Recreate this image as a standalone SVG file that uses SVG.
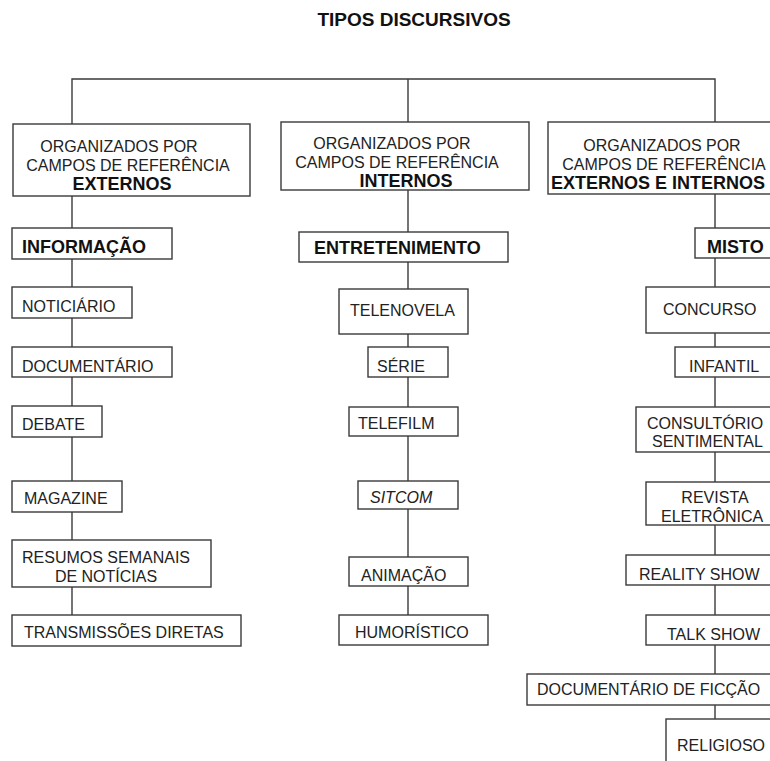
<svg xmlns="http://www.w3.org/2000/svg" width="770" height="761" viewBox="0 0 770 761">
  <style>
    .box { fill: #ffffff; stroke: #3a3a3a; stroke-width: 1.4; }
    .wire { fill: none; stroke: #3a3a3a; stroke-width: 1.4; }
    text { font-family: "Liberation Sans", Arial, sans-serif; fill: #222222; }
    .t { font-size: 16px; }
    .b { font-size: 18px; font-weight: bold; fill: #111111; }
    .it { font-size: 16px; font-style: italic; }
    .title { font-size: 19px; font-weight: bold; fill: #111111; }
    .mid { text-anchor: middle; }
  </style>

  <rect x="0" y="0" width="770" height="761" fill="#ffffff"/>

  <text class="title mid" x="414" y="26">TIPOS DISCURSIVOS</text>

  <!-- connectors: top bus and one spine per column -->
  <g id="connectors">
    <path class="wire" d="M72 124 V79 H715 V122 M408 79 V122"/>
    <path class="wire" d="M72 196 V615"/>
    <path class="wire" d="M408 190 V615"/>
    <path class="wire" d="M715 194 V719"/>
  </g>

  <!-- column headers -->
  <g id="hdr-externos">
    <rect class="box" x="13" y="124" width="237" height="72"/>
    <text class="t mid" x="119" y="152">ORGANIZADOS POR</text>
    <text class="t mid" x="128" y="171">CAMPOS DE REFERÊNCIA</text>
    <text class="b mid" x="122" y="190">EXTERNOS</text>
  </g>
  <g id="hdr-internos">
    <rect class="box" x="281" y="122" width="248" height="68"/>
    <text class="t mid" x="392" y="149">ORGANIZADOS POR</text>
    <text class="t mid" x="397" y="168">CAMPOS DE REFERÊNCIA</text>
    <text class="b mid" x="406" y="187">INTERNOS</text>
  </g>
  <g id="hdr-misto">
    <rect class="box" x="548" y="122" width="240" height="72"/>
    <text class="t mid" x="662" y="151">ORGANIZADOS POR</text>
    <text class="t mid" x="664" y="170">CAMPOS DE REFERÊNCIA</text>
    <text class="b mid" x="658" y="189">EXTERNOS E INTERNOS</text>
  </g>

  <!-- left column: informação -->
  <g id="informacao">
    <rect class="box" x="12" y="228" width="160" height="31"/>
    <text class="b" x="22" y="253">INFORMAÇÃO</text>
  </g>
  <g id="noticiario">
    <rect class="box" x="12" y="287" width="120" height="31"/>
    <text class="t" x="22" y="312">NOTICIÁRIO</text>
  </g>
  <g id="documentario">
    <rect class="box" x="12" y="347" width="160" height="30"/>
    <text class="t" x="22" y="372">DOCUMENTÁRIO</text>
  </g>
  <g id="debate">
    <rect class="box" x="12" y="406" width="90" height="31"/>
    <text class="t" x="22" y="430">DEBATE</text>
  </g>
  <g id="magazine">
    <rect class="box" x="12" y="481" width="110" height="31"/>
    <text class="t" x="24" y="504">MAGAZINE</text>
  </g>
  <g id="resumos">
    <rect class="box" x="12" y="540" width="199" height="47"/>
    <text class="t" x="22" y="563">RESUMOS SEMANAIS</text>
    <text class="t mid" x="106" y="582">DE NOTÍCIAS</text>
  </g>
  <g id="transmissoes">
    <rect class="box" x="12" y="615" width="229" height="31"/>
    <text class="t" x="24" y="638">TRANSMISSÕES DIRETAS</text>
  </g>

  <!-- middle column: entretenimento -->
  <g id="entretenimento">
    <rect class="box" x="299" y="232" width="209" height="30"/>
    <text class="b" x="314" y="254">ENTRETENIMENTO</text>
  </g>
  <g id="telenovela">
    <rect class="box" x="339" y="289" width="129" height="45"/>
    <text class="t" x="350" y="316">TELENOVELA</text>
  </g>
  <g id="serie">
    <rect class="box" x="368" y="347" width="80" height="30"/>
    <text class="t" x="377" y="372">SÉRIE</text>
  </g>
  <g id="telefilm">
    <rect class="box" x="349" y="407" width="109" height="29"/>
    <text class="t" x="358" y="429">TELEFILM</text>
  </g>
  <g id="sitcom">
    <rect class="box" x="358" y="481" width="100" height="28"/>
    <text class="it" x="370" y="503">SITCOM</text>
  </g>
  <g id="animacao">
    <rect class="box" x="349" y="557" width="119" height="29"/>
    <text class="t" x="361" y="581">ANIMAÇÃO</text>
  </g>
  <g id="humoristico">
    <rect class="box" x="339" y="615" width="149" height="30"/>
    <text class="t" x="355" y="638">HUMORÍSTICO</text>
  </g>

  <!-- right column: misto -->
  <g id="misto">
    <rect class="box" x="695" y="228" width="90" height="30"/>
    <text class="b" x="707" y="253">MISTO</text>
  </g>
  <g id="concurso">
    <rect class="box" x="646" y="287" width="140" height="46"/>
    <text class="t" x="663" y="315">CONCURSO</text>
  </g>
  <g id="infantil">
    <rect class="box" x="675" y="347" width="110" height="30"/>
    <text class="t" x="689" y="372">INFANTIL</text>
  </g>
  <g id="consultorio">
    <rect class="box" x="636" y="407" width="150" height="45"/>
    <text class="t" x="647" y="429">CONSULTÓRIO</text>
    <text class="t" x="652" y="447">SENTIMENTAL</text>
  </g>
  <g id="revista">
    <rect class="box" x="646" y="482" width="140" height="43"/>
    <text class="t mid" x="715" y="503">REVISTA</text>
    <text class="t" x="661" y="522">ELETRÔNICA</text>
  </g>
  <g id="reality">
    <rect class="box" x="626" y="555" width="160" height="30"/>
    <text class="t" x="639" y="580">REALITY SHOW</text>
  </g>
  <g id="talkshow">
    <rect class="box" x="646" y="615" width="140" height="30"/>
    <text class="t" x="667" y="640">TALK SHOW</text>
  </g>
  <g id="docficcao">
    <rect class="box" x="527" y="674" width="260" height="31"/>
    <text class="t" x="537" y="695">DOCUMENTÁRIO DE FICÇÃO</text>
  </g>
  <g id="religioso">
    <rect class="box" x="666" y="719" width="120" height="60"/>
    <text class="t" x="677" y="751">RELIGIOSO</text>
  </g>
</svg>
